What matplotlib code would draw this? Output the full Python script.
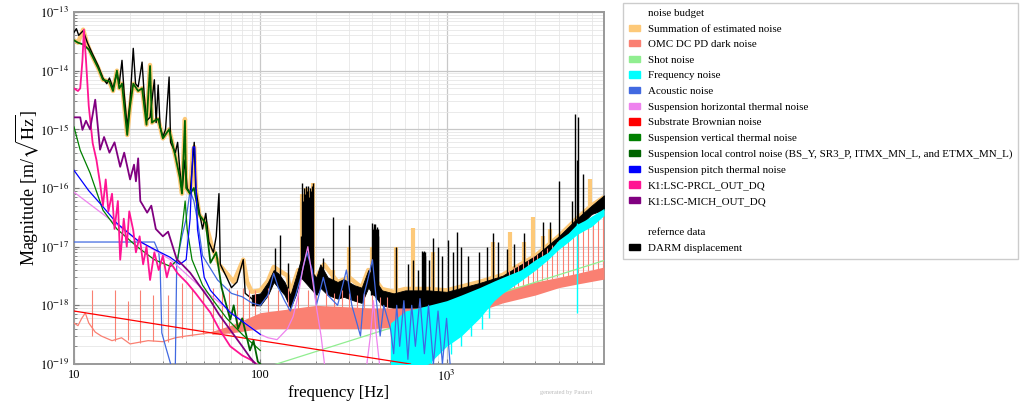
import matplotlib
matplotlib.use("Agg")
import matplotlib.pyplot as plt
from matplotlib.patches import Patch

# ---- data (frequency [Hz], magnitude [m/rtHz]) ----
# DARM below 100 Hz as a line, above as a noisy band plus narrow lines
darm_f = [10, 10.3, 10.6, 11.2, 11.8, 12.5, 13.5, 14.3, 15, 15.5, 16.2, 17, 17.5, 18.1, 18.6,
          19.3, 20, 20.8, 21.4, 22.1, 23.2, 23.8, 24.5, 25.6, 27, 27.6, 28.3, 29, 30, 31, 32.4,
          33, 35, 36, 37, 38, 39.4, 40.5, 42, 44.2, 45, 47, 49, 51, 53, 56, 58, 60, 61, 66, 70,
          75, 81, 83, 90, 96]
darm_a = [4.5e-14, 5.2e-14, 4.0e-14, 4.8e-14, 3.0e-14, 2.0e-14, 1.2e-14, 7.5e-15, 6e-15, 7.5e-15,
          5e-15, 9e-15, 6e-15, 1.5e-14, 4e-15, 1.1e-15, 3e-15, 2.4e-14, 6e-15, 5.3e-15, 1.4e-14,
          4e-15, 1.4e-15, 1.6e-15, 7e-15, 1.3e-15, 5.7e-15, 1.1e-15, 7.4e-16, 1e-15, 7.8e-15,
          6e-16, 4e-16, 6e-16, 2e-16, 9e-17, 3e-16, 1e-16, 8e-17, 6e-16, 1e-16, 4e-17, 2e-17,
          3.7e-17, 1.2e-17, 8e-18, 1.5e-17, 8e-17, 5e-18, 3e-18, 2e-18, 2.5e-18, 6e-18, 1.6e-18,
          1.3e-18, 1.1e-18]
darm_band_f = [90, 100, 110, 118, 125, 135, 145, 155, 165, 200, 210, 230, 260, 280, 320, 350,
               380, 450, 520, 600, 800, 1000, 1500, 2000, 3000, 4000, 5000, 6000, 7000]
darm_band_lo = [1e-18, 1e-18, 1.5e-18, 2.5e-18, 2e-18, 1.5e-18, 9e-19, 1.5e-18, 3e-18, 1.5e-18,
                2e-18, 1.5e-18, 1.3e-18, 1.4e-18, 1.2e-18, 1.1e-18, 2e-18, 1e-18, 9e-19, 9e-19,
                9e-19, 1e-18, 1.6e-18, 2.4e-18, 5e-18, 1.1e-17, 2e-17, 3.6e-17, 4.3e-17]
darm_band_hi = [1.5e-18, 1.6e-18, 2.5e-18, 4e-18, 3.5e-18, 2.5e-18, 1.5e-18, 3e-18, 6e-18, 3e-18,
                5e-18, 3e-18, 2.5e-18, 2.8e-18, 2.2e-18, 2e-18, 4e-18, 1.8e-18, 1.6e-18, 1.8e-18,
                1.8e-18, 1.7e-18, 2.4e-18, 3.2e-18, 7e-18, 1.5e-17, 3e-17, 5e-17, 7.5e-17]
darm_peak_f = [120, 127, 140, 165, 168, 170, 172, 174, 176, 178, 180, 183, 186, 188, 190, 192,
               218, 247, 300, 395, 400, 403, 406, 410, 414, 418, 422, 426, 430, 535, 620, 660,
               700, 740, 748, 756, 764, 770, 800, 850, 900, 950, 1020, 1080, 1140, 1200, 1300,
               1500, 1650, 1780, 1900, 2100, 2300, 2600, 3300, 3600, 4000, 4700, 4900, 5000,
               5100, 5400]
darm_peak_top = [9.5e-18, 1.6e-17, 5.3e-18, 1.5e-17, 1.2e-16, 6e-17, 1e-16, 8e-17, 1.1e-16,
                 9e-17, 1.1e-16, 7e-17, 1e-16, 9e-17, 1.1e-16, 1.2e-16, 6.5e-18, 3.2e-17,
                 2.3e-17, 5e-18, 2.5e-17, 2e-17, 2.4e-17, 2.2e-17, 2.4e-17, 2e-17, 2.2e-17,
                 2e-17, 1.5e-17, 1e-17, 5e-18, 6e-18, 4e-18, 8.3e-18, 8e-18, 8.3e-18, 8e-18,
                 7e-18, 6e-18, 1.4e-17, 1e-17, 7e-18, 1.3e-17, 8e-18, 1.8e-17, 1e-17, 7e-18,
                 8e-18, 1e-17, 1.7e-17, 1.2e-17, 9e-18, 1.1e-17, 1.7e-17, 2.6e-17, 2.6e-17,
                 1.3e-16, 6e-17, 1.8e-15, 3e-16, 1.6e-15, 1.7e-16]
darm_peak_base = [2.5e-18, 2e-18, 1.5e-18, 3e-18, 3e-18, 3e-18, 3e-18, 3e-18, 3e-18, 3e-18,
                  3e-18, 3e-18, 3e-18, 3e-18, 3e-18, 3e-18, 2e-18, 1.5e-18, 1.3e-18, 1.5e-18,
                  1.5e-18, 1.5e-18, 1.5e-18, 1.5e-18, 1.5e-18, 1.5e-18, 1.5e-18, 1.5e-18,
                  1.5e-18, 9e-19, 9e-19, 9e-19, 9e-19, 9e-19, 9e-19, 9e-19, 9e-19, 9e-19,
                  9e-19, 1e-18, 1e-18, 1e-18, 1.1e-18, 1.2e-18, 1.2e-18, 1.3e-18, 1.4e-18,
                  1.6e-18, 1.8e-18, 2e-18, 2.2e-18, 2.4e-18, 2.6e-18, 3.5e-18, 6e-18, 7e-18,
                  1.1e-17, 1.8e-17, 1.9e-17, 2e-17, 2.1e-17, 2.5e-17]

sum_f = [10, 10.5, 11.2, 11.8, 12.5, 13.5, 14.3, 15.5, 16.2, 17, 17.5, 18.1, 19.3, 20, 20.8, 22.1,
         23.2, 24.5, 25.6, 26.2, 27, 28.3, 30, 32.4, 35, 37, 38, 39.4, 40, 42, 43.5, 44.2, 45, 47,
         51, 55, 60, 66, 72, 81, 85, 90, 100, 110, 118, 125, 140, 145, 160, 200, 220, 260, 300,
         350, 380, 450, 520, 600, 800, 1000, 1500, 2000, 3000, 4000, 5000, 6000, 7000]
sum_a = [3.3e-14, 3.0e-14, 5e-14, 2.8e-14, 1.8e-14, 1.1e-14, 7e-15, 6.5e-15, 4.5e-15, 1e-14, 5e-15,
         6e-15, 8e-16, 2.5e-15, 6e-15, 4.5e-15, 5e-15, 1.2e-15, 1.25e-14, 1.3e-15, 1.4e-15,
         1.5e-15, 7e-16, 1e-15, 3.5e-16, 1.5e-16, 8e-17, 1.5e-15, 1e-16, 8e-17, 4.4e-16, 5e-16,
         1e-16, 3.5e-17, 2.5e-17, 1e-17, 5e-18, 3.5e-18, 2.5e-18, 6e-18, 2.5e-18, 1.7e-18,
         1.8e-18, 2.6e-18, 4.5e-18, 4e-18, 3.2e-18, 1.6e-18, 4e-18, 3e-18, 5e-18, 2.5e-18, 3e-18,
         2e-18, 4e-18, 1.9e-18, 1.7e-18, 1.9e-18, 1.9e-18, 1.8e-18, 2.5e-18, 3.3e-18, 7e-18,
         1.5e-17, 3e-17, 5e-17, 7e-17]
sum_peak_f = [168, 176, 184, 192, 247, 300, 400, 420, 535, 660, 850, 1780, 2200, 2600, 2900,
              3300, 3600, 4000, 5900]
sum_peak_top = [8e-17, 1e-16, 9e-17, 1.2e-16, 4e-18, 1e-17, 1e-17, 8e-18, 1e-17, 2.1e-17, 8e-18,
                1.2e-17, 1.8e-17, 1.2e-17, 3.2e-17, 1.5e-17, 2e-17, 1.5e-17, 1.4e-16]
sum_peak_base = [3e-18, 3e-18, 3e-18, 3e-18, 2e-18, 2e-18, 2e-18, 2e-18, 1.2e-18, 1.2e-18,
                 1.2e-18, 2e-18, 2.6e-18, 3e-18, 4e-18, 6e-18, 7e-18, 1.1e-17, 3.5e-17]

omc_f = [10, 10.5, 11, 11.5, 12, 13, 14, 16, 18, 20, 25, 30, 35, 40, 50, 60]
omc_a = [5e-19, 4.5e-19, 6e-19, 7.4e-19, 5e-19, 3.5e-19, 3e-19, 2.5e-19, 2.8e-19, 2.2e-19,
         2.5e-19, 2.4e-19, 2.8e-19, 3e-19, 3.3e-19, 3.6e-19]
omc_band_f = [55, 70, 100, 200, 400, 700, 1000, 1500, 2000, 3000, 4000, 5000, 7000]
omc_band_lo = [3.2e-19, 3.4e-19, 4e-19, 4e-19, 4e-19, 4.5e-19, 6e-19, 8e-19, 1.1e-18, 1.5e-18,
               2e-18, 2.3e-18, 2.8e-18]
omc_band_hi = [3.6e-19, 4.6e-19, 7.5e-19, 1e-18, 9e-19, 9e-19, 1.1e-18, 1.4e-18, 1.8e-18,
               2.5e-18, 3e-18, 3.5e-18, 4.5e-18]
omc_spike_f = [12.5, 16.6, 19.5, 22.6, 26.6, 31.9, 38, 43, 49, 56, 62, 68, 75, 81, 87, 94, 110,
               125, 140, 160, 180, 200, 225, 250, 275, 300, 330, 360, 400, 440, 480,
               2155, 2290, 2410, 2565, 2725, 2900, 3045, 3240, 3450, 3670, 3900, 4205, 4475,
               4755, 5060, 5385, 5730, 6095, 6485, 6900]
omc_spike_top = [1.8e-18, 1.8e-18, 1.2e-18, 1.8e-18, 1.5e-18, 1.5e-18, 2.4e-18, 2e-18, 1.8e-18,
                 2e-18, 1.8e-18, 2e-18, 1.8e-18, 2e-18, 1.8e-18, 1.8e-18, 2e-18, 1.8e-18, 2e-18,
                 1.6e-18, 1.8e-18, 1.5e-18, 1.8e-18, 1.6e-18, 1.8e-18, 1.6e-18, 1.5e-18, 1.6e-18,
                 1.5e-18, 1.4e-18, 1.4e-18,
                 4e-18, 4.5e-18, 5e-18, 5.5e-18, 6e-18, 7e-18, 7.5e-18, 8.5e-18, 9.5e-18,
                 1.05e-17, 1.2e-17, 1.35e-17, 1.5e-17, 1.7e-17, 1.9e-17, 2.2e-17, 2.5e-17,
                 2.8e-17, 3.2e-17, 3.6e-17]
omc_spike_base = [3e-19, 2.5e-19, 2.6e-19, 2.3e-19, 2.5e-19, 2.4e-19, 2.8e-19, 3e-19, 3.2e-19,
                  3.4e-19, 3.6e-19, 3.4e-19, 3.6e-19, 3.8e-19, 4e-19, 4.2e-19, 6e-19, 6e-19,
                  6e-19, 6e-19, 6e-19, 6e-19, 6e-19, 6e-19, 6e-19, 6e-19, 6e-19, 6e-19, 6e-19,
                  6e-19, 6e-19,
                  1.9e-18, 2e-18, 2.1e-18, 2.2e-18, 2.3e-18, 2.4e-18, 2.5e-18, 2.6e-18, 2.7e-18,
                  2.8e-18, 3e-18, 3.1e-18, 3.2e-18, 3.3e-18, 3.5e-18, 3.6e-18, 3.8e-18, 4e-18,
                  4.2e-18, 4.4e-18]

shot_f = [110, 7000]
shot_a = [9e-20, 5.8e-18]

freq_f = [500, 600, 700, 800, 1000, 1200, 1500, 1800, 2000, 2500, 3000, 3500, 4000, 4500, 5000,
          5500, 6000, 7000]
freq_lo = [8e-20, 8e-20, 9e-20, 1e-19, 2e-19, 3e-19, 6e-19, 1.2e-18, 1.6e-18, 2.6e-18, 4e-18,
           6e-18, 9e-18, 1.2e-17, 1.6e-17, 1.9e-17, 2.2e-17, 3.4e-17]
freq_hi = [5e-19, 8e-19, 9e-19, 1e-18, 1.2e-18, 1.5e-18, 2e-18, 2.6e-18, 3e-18, 4e-18, 6e-18,
           8e-18, 1.3e-17, 1.7e-17, 2.4e-17, 2.8e-17, 3.3e-17, 4.5e-17]
freq_dip_f = [560, 640, 720, 820, 930, 1050, 1200, 1350, 1550, 1700, 5000]
freq_dip_a = [8e-20, 8e-20, 8e-20, 1e-19, 1.5e-19, 1.5e-19, 2e-19, 3e-19, 4e-19, 6e-19, 7.5e-19]
freq_dip_top = [5e-19, 6e-19, 6e-19, 6e-19, 8e-19, 8e-19, 1e-18, 1e-18, 1.2e-18, 1.6e-18, 2.5e-17]

acou_f = [10, 27, 28.5, 29, 29.6, 31, 33.7, 34.5, 35, 35.6, 38, 40, 42, 44, 46, 49, 59, 70, 80,
          90, 100, 110, 118, 125, 135, 145, 155, 165, 178, 190, 200, 218, 230, 260, 290, 310, 330,
          345, 360, 375, 400, 420, 440, 460, 500, 520, 540, 560, 590, 620, 650, 680, 720, 760,
          800, 850, 900, 950, 1000, 1050]
acou_a = [1.2e-17, 1.2e-17, 8e-18, 4.6e-18, 3.4e-19, 2e-19, 8e-20, 8e-20, 1e-19, 5.3e-18,
          1.5e-17, 3e-17, 9e-17, 6e-17, 2.8e-17, 7e-18, 2.7e-18, 1.6e-18, 1.4e-18, 1.1e-18,
          1e-18, 1.5e-18, 3.5e-18, 2e-18, 1.2e-18, 8e-19, 1.5e-18, 3e-18, 8e-18, 4e-18, 1e-18,
          3e-18, 1.5e-18, 1e-18, 4e-18, 1e-18, 5e-19, 3e-19, 1.5e-18, 2.5e-18, 6e-18, 1.2e-18,
          3e-19, 1e-18, 4e-19, 1.5e-19, 1e-18, 2e-19, 1.2e-18, 1.2e-19, 1e-18, 2e-19, 1.3e-18,
          1.5e-19, 1e-18, 1e-19, 8e-19, 1e-19, 6e-19, 8e-20]

horiz_f = [10, 21.8, 33, 49, 75, 100, 110, 123, 140, 150, 160, 170, 180, 190, 200, 212, 223]
horiz_a = [8.5e-17, 1.3e-17, 6e-18, 1.9e-18, 6.4e-19, 3.2e-19, 2.8e-19, 2.6e-19, 4e-19, 6.4e-19,
           1.5e-18, 4.6e-18, 1e-17, 3e-18, 9.5e-19, 3e-19, 8e-20]
horiz2_f = [370, 390, 405, 420, 440]
horiz2_a = [8e-20, 3e-19, 1.2e-18, 3e-19, 8e-20]

subs_f = [10, 100, 640]
subs_a = [8e-19, 2.5e-19, 1e-19]

vert_f = [10, 10.8, 12.2, 14.3, 17, 21.8, 27, 33, 36, 38, 39.5, 40.5, 43, 49, 55, 66, 80, 100]
vert_a = [1.1e-15, 4.4e-16, 1.8e-16, 4.2e-17, 2e-17, 1e-17, 6e-18, 4.6e-18, 6e-18, 2e-17, 6e-17,
          2e-17, 6e-18, 2.2e-18, 1.3e-18, 6e-19, 3.2e-19, 1.7e-19]

local_f = [10, 10.5, 11.2, 12, 12.5, 13.5, 14.3, 15.5, 16.2, 17, 17.5, 18.1, 19.3, 20, 20.8, 22.1,
           23.2, 24.5, 25.6, 26.2, 27, 28.3, 30, 32.4, 35, 37, 38, 39.4, 40, 42, 44, 45, 47, 51,
           54, 58, 62, 69, 72, 76, 80, 88, 92, 97, 100]
local_a = [3.3e-14, 3e-14, 2.8e-14, 2.3e-14, 1.8e-14, 1.1e-14, 7e-15, 6.5e-15, 4.5e-15, 1e-14,
           5e-15, 6e-15, 8e-16, 2.5e-15, 6e-15, 4.5e-15, 5e-15, 1.2e-15, 1.2e-14, 1.3e-15, 1.4e-15,
           1.5e-15, 7e-16, 1e-15, 3.5e-16, 1.5e-16, 8e-17, 1.4e-15, 1e-16, 8e-17, 1e-16, 7e-17,
           3.5e-17, 2.5e-17, 5.3e-18, 8e-18, 2e-18, 5.7e-19, 1e-18, 4e-19, 6e-19, 1.7e-19,
           2.5e-19, 1.1e-19, 1e-19]

pitch_f = [10, 12, 14.3, 17, 21.8, 27, 32.8, 37, 40, 42, 43.5, 44.5, 46, 50, 54, 69, 100]
pitch_a = [2e-16, 9e-17, 4.8e-17, 2.5e-17, 1.3e-17, 9e-18, 6.6e-18, 5e-18, 6e-18, 3e-17, 5e-16,
           5e-16, 2e-17, 3e-18, 1.8e-18, 7.5e-19, 3.2e-19]

prcl_f = [10, 10.5, 10.8, 11.1, 11.3, 11.6, 12, 12.6, 13.2, 13.8, 14.3, 14.8, 15.3, 16, 16.5,
          17.2, 17.7, 18.5, 19.2, 19.8, 20.8, 21.5, 22.5, 23.5, 24.5, 25.6, 27, 28.5, 30, 31.5,
          33, 36, 40.5, 45, 54, 60, 69, 80, 88, 100]
prcl_a = [5e-15, 4.5e-15, 5e-15, 1.5e-14, 5e-14, 1.5e-14, 2.5e-15, 5.8e-16, 3e-16, 1.2e-16,
          5e-17, 1.4e-16, 4e-17, 8e-17, 2e-17, 6e-17, 6e-18, 3e-17, 1e-17, 4e-17, 1.9e-17, 8e-18,
          1.5e-17, 5e-18, 1e-17, 2.7e-18, 8e-18, 4e-18, 7e-18, 3e-18, 5.3e-18, 3.5e-18, 2.4e-18,
          1.6e-18, 7.5e-19, 4e-19, 2e-19, 1.4e-19, 1.2e-19, 9e-20]

mich_f = [10, 10.8, 11.1, 11.6, 12.2, 13, 13.8, 14.5, 15.5, 16.5, 17.7, 18.6, 20, 21, 21.5, 22.1,
          22.7, 23.5, 24.7, 26, 27.5, 30, 32, 35.6, 38, 42, 48, 54, 60, 69, 80, 88, 100]
mich_a = [1.6e-15, 1.6e-15, 9.8e-16, 1.4e-15, 1e-15, 3.2e-15, 4.5e-16, 7.4e-16, 4e-16, 6e-16,
          2.3e-16, 4e-16, 1.4e-16, 2.5e-16, 1.3e-16, 3.2e-16, 6e-17, 5e-17, 3.8e-17, 5e-17, 2e-17,
          1.5e-17, 1.8e-17, 6.1e-18, 5e-18, 3.6e-18, 2e-18, 1.2e-18, 7e-19, 3.8e-19, 2e-19,
          1.3e-19, 8e-20]

legend_labels = ["Summation of estimated noise", "OMC DC PD dark noise", "Shot noise",
                 "Frequency noise", "Acoustic noise", "Suspension horizontal thermal noise",
                 "Substrate Brownian noise", "Suspension vertical thermal noise",
                 "Suspension local control noise (BS_Y, SR3_P, ITMX_MN_L, and ETMX_MN_L)",
                 "Suspension pitch thermal noise", "K1:LSC-PRCL_OUT_DQ", "K1:LSC-MICH_OUT_DQ"]
legend_colors = ["#fdc979", "salmon", "lightgreen", "cyan", "royalblue", "violet", "red",
                 "green", "darkgreen", "blue", "deeppink", "purple"]

xtick_vals = [10, 100, 1000]
xtick_labels = ["10", "100", "$10^3$"]
ytick_vals = [1e-19, 1e-18, 1e-17, 1e-16, 1e-15, 1e-14, 1e-13]
ytick_labels = ["$10^{-19}$", "$10^{-18}$", "$10^{-17}$", "$10^{-16}$", "$10^{-15}$",
                "$10^{-14}$", "$10^{-13}$"]

plt.rcParams["font.family"] = "serif"
plt.rcParams["font.serif"] = ["Liberation Serif", "DejaVu Serif"]
plt.rcParams["mathtext.fontset"] = "stix"

fig = plt.figure(figsize=(10.25, 4.01), dpi=100)
ax = fig.add_axes([74 / 1025, 37 / 401, 530 / 1025, 352 / 401])

# summation of the noise budget, drawn wide under the measurement
sum_c = legend_colors[0]
ax.plot(sum_f, sum_a, color=sum_c, lw=3.2, zorder=2)
ax.vlines(sum_peak_f, sum_peak_base, sum_peak_top, color=sum_c, lw=3, zorder=2)

# measured DARM
ax.plot(darm_f, darm_a, color="black", lw=1.0, zorder=3)
ax.fill_between(darm_band_f, darm_band_lo, darm_band_hi, color="black", lw=0.6, zorder=3)
ax.vlines(darm_peak_f, darm_peak_base, darm_peak_top, color="black", lw=1.0, zorder=3)

# OMC dark noise
ax.plot(omc_f, omc_a, color="salmon", lw=0.9, zorder=4)
ax.fill_between(omc_band_f, omc_band_lo, omc_band_hi, color="salmon", lw=0, zorder=4)
ax.vlines(omc_spike_f, omc_spike_base, omc_spike_top, color="salmon", lw=0.8, zorder=4)

ax.plot(shot_f, shot_a, color="lightgreen", lw=0.9, zorder=5)

# frequency noise
ax.fill_between(freq_f, freq_lo, freq_hi, color="cyan", lw=0, zorder=5)
ax.vlines(freq_dip_f, freq_dip_a, freq_dip_top, color="cyan", lw=1.0, zorder=5)

ax.plot(acou_f, acou_a, color="royalblue", lw=0.9, zorder=6)
ax.plot(horiz_f, horiz_a, color="violet", lw=0.9, zorder=6)
ax.plot(horiz2_f, horiz2_a, color="violet", lw=0.9, zorder=6)
ax.plot(subs_f, subs_a, color="red", lw=0.9, zorder=6)
ax.plot(vert_f, vert_a, color="green", lw=0.9, zorder=6)
ax.plot(local_f, local_a, color="darkgreen", lw=1.3, zorder=6)
ax.plot(pitch_f, pitch_a, color="blue", lw=0.9, zorder=6)
ax.plot(prcl_f, prcl_a, color="deeppink", lw=1.3, zorder=7)
ax.plot(mich_f, mich_a, color="purple", lw=1.3, zorder=7)

ax.set_xscale("log")
ax.set_yscale("log")
ax.set_xlim(10, 7000)
ax.set_ylim(1e-19, 1e-13)
ax.set_xticks(xtick_vals)
ax.set_xticklabels(xtick_labels)
ax.set_yticks(ytick_vals)
ax.set_yticklabels(ytick_labels)
ax.tick_params(which="both", direction="in", labelsize=9, colors="#777777", labelcolor="black")
ax.grid(which="major", color="#c8c8c8", lw=0.9)
ax.grid(which="minor", color="#e6e6e6", lw=0.6)
for s in ax.spines.values():
    s.set_color("#999999")
    s.set_linewidth(1.4)

ax.set_xlabel("frequency [Hz]", fontsize=12, labelpad=1)
ax.set_ylabel(r"Magnitude [m/$\sqrt{\mathrm{Hz}}$]", fontsize=13, labelpad=-1)
fig.text(0.527, 0.018, "generated by Pastavi", fontsize=4.5, color="#bbbbbb")

blank = Patch(visible=False)
handles = [blank] + [Patch(color=c) for c in legend_colors] + [blank, blank, Patch(color="black")]
labels = ["noise budget"] + legend_labels + [" ", "refernce data", "DARM displacement"]
fig.legend(handles, labels, loc="upper left", bbox_to_anchor=(623 / 1025, 1 - 3 / 401),
           fontsize=7.9, fancybox=False, edgecolor="#cccccc", framealpha=1,
           handlelength=1.0, handleheight=0.5, handletextpad=0.7, labelspacing=0.6,
           borderpad=0.55, borderaxespad=0)

fig.savefig("out.png", dpi=100)
